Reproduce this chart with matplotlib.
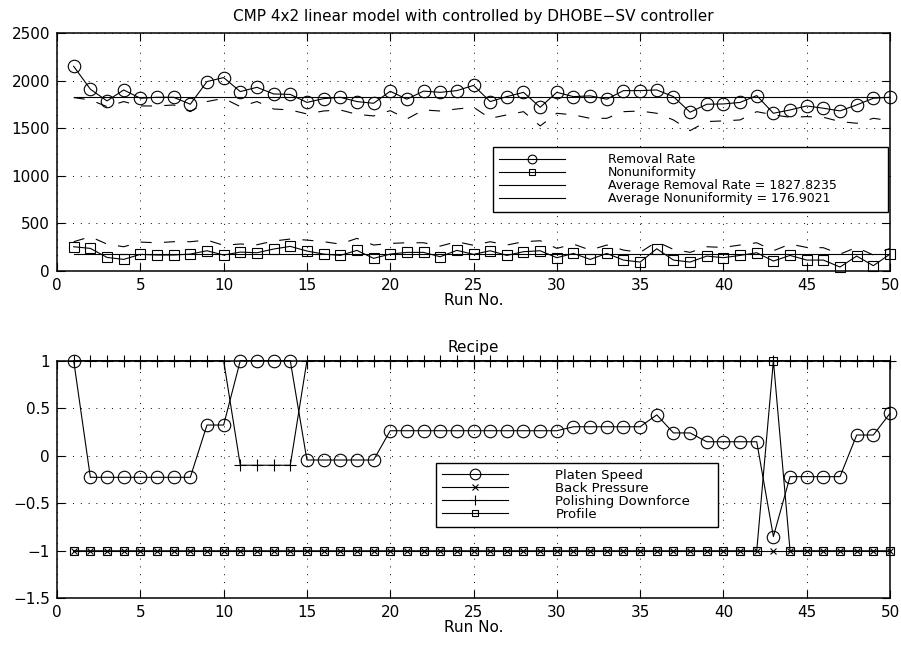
import numpy as np
import matplotlib
matplotlib.use("Agg")
import matplotlib.pyplot as plt

plt.rcParams["font.family"] = ["DejaVu Sans"]
plt.rcParams["font.size"] = 11
plt.rcParams["axes.linewidth"] = 1.1

# ---- data ----
runs = list(range(1, 51))

removal_rate = [2150, 1910, 1787, 1902, 1815, 1825, 1825, 1752, 1990, 2032,
                1885, 1930, 1860, 1855, 1771, 1811, 1825, 1780, 1762, 1888,
                1805, 1890, 1877, 1895, 1950, 1780, 1832, 1877, 1720, 1877,
                1832, 1840, 1805, 1895, 1895, 1902, 1832, 1668, 1752, 1755,
                1771, 1843, 1657, 1692, 1734, 1710, 1682, 1745, 1815, 1825]

removal_pred = [1822, 1797, 1727, 1780, 1734, 1734, 1744, 1674, 1780, 1814,
                1727, 1780, 1702, 1692, 1650, 1681, 1692, 1646, 1629, 1685,
                1597, 1692, 1681, 1702, 1720, 1604, 1640, 1674, 1524, 1657,
                1640, 1604, 1604, 1674, 1681, 1657, 1587, 1475, 1570, 1577,
                1587, 1674, 1640, 1615, 1622, 1615, 1570, 1552, 1604, 1580]

nonuniformity = [255, 238, 143, 122, 175, 168, 168, 178, 213, 168,
                 199, 192, 231, 259, 210, 178, 164, 217, 133, 178,
                 196, 196, 150, 217, 175, 213, 164, 203, 213, 140,
                 185, 122, 185, 115, 94, 234, 115, 94, 157, 140,
                 164, 192, 105, 164, 115, 115, 42, 157, 56, 178]

nonuni_pred = [308, 360, 283, 255, 304, 297, 308, 308, 325, 270,
               284, 276, 315, 336, 325, 308, 283, 343, 273, 290,
               297, 297, 262, 308, 270, 308, 273, 308, 318, 238,
               283, 220, 273, 220, 196, 308, 227, 196, 255, 248,
               273, 297, 213, 283, 248, 245, 178, 248, 168, 238]

avg_removal = 1827.8235
avg_nonuni = 176.9021

platen_speed = [1, -0.227, -0.227, -0.227, -0.227, -0.227, -0.227, -0.227, 0.323, 0.323,
                1, 1, 1, 1, -0.045, -0.045, -0.045, -0.045, -0.045, 0.263,
                0.263, 0.263, 0.263, 0.263, 0.263, 0.263, 0.263, 0.263, 0.263, 0.263,
                0.305, 0.305, 0.305, 0.305, 0.305, 0.43, 0.24, 0.24, 0.147, 0.147,
                0.147, 0.147, -0.85, -0.22, -0.22, -0.22, -0.22, 0.218, 0.218, 0.446]

back_pressure = [-1, -1, -1, -1, -1, -1, -1, -1, -1, -1,
                 -1, -1, -1, -1, -1, -1, -1, -1, -1, -1,
                 -1, -1, -1, -1, -1, -1, -1, -1, -1, -1,
                 -1, -1, -1, -1, -1, -1, -1, -1, -1, -1,
                 -1, -1, -1, -1, -1, -1, -1, -1, -1, -1]

downforce = [1, 1, 1, 1, 1, 1, 1, 1, 1, 1,
             -0.1, -0.1, -0.1, -0.1, 1, 1, 1, 1, 1, 1,
             1, 1, 1, 1, 1, 1, 1, 1, 1, 1,
             1, 1, 1, 1, 1, 1, 1, 1, 1, 1,
             1, 1, 1, 1, 1, 1, 1, 1, 1, 1]

profile = [-1, -1, -1, -1, -1, -1, -1, -1, -1, -1,
           -1, -1, -1, -1, -1, -1, -1, -1, -1, -1,
           -1, -1, -1, -1, -1, -1, -1, -1, -1, -1,
           -1, -1, -1, -1, -1, -1, -1, -1, -1, -1,
           -1, -1, 1, -1, -1, -1, -1, -1, -1, -1]

TITLE_TOP = "CMP 4x2 linear model with controlled by DHOBE\u2212SV controller"

LW = 0.8
DASH = (0, (10, 11))


def style_axes(ax, yticks, ylim):
    ax.set_xlim(0, 50)
    ax.set_xticks(range(0, 51, 5))
    ax.set_ylim(*ylim)
    ax.set_yticks(yticks)
    ax.tick_params(direction="in", top=True, right=True, length=6, width=0.8,
                   labelsize=11, pad=5)
    ax.grid(True, color="black", linestyle=(0, (1, 7)), linewidth=0.7)
    ax.set_xlabel("Run No.", fontsize=11, labelpad=0)


def boxed_legend(ax, bbox, size, **kw):
    leg = ax.legend(loc="upper left", bbox_to_anchor=bbox, mode="expand",
                    fontsize=size, numpoints=1, borderaxespad=0,
                    fancybox=False, framealpha=1, edgecolor="black", **kw)
    leg.get_frame().set_linewidth(1.0)
    return leg


fig = plt.figure(figsize=(9.01, 6.45), dpi=100)
ax1 = fig.add_axes([0.0633, 0.5798, 0.9245, 0.369])
ax2 = fig.add_axes([0.0633, 0.0724, 0.9245, 0.3684])

# ---- top panel ----
mk = dict(color="black", linewidth=LW, markerfacecolor="none",
          markeredgecolor="black", markeredgewidth=0.8, clip_on=False)
ax1.plot(runs, removal_rate, marker="o", markersize=9, label="Removal Rate", **mk)
ax1.plot(runs, nonuniformity, marker="s", markersize=6.5, label="Nonuniformity", **mk)
ax1.plot([runs[0], runs[-1]], [avg_removal, avg_removal], color="black", linewidth=LW,
         label=f"Average Removal Rate = {avg_removal:.4f}")
ax1.plot([runs[0], runs[-1]], [avg_nonuni, avg_nonuni], color="black", linewidth=LW,
         label=f"Average Nonuniformity = {avg_nonuni:.4f}")
ax1.plot(runs, removal_pred, color="black", linewidth=LW, linestyle=DASH)
ax1.plot(runs, nonuni_pred, color="black", linewidth=LW, linestyle=DASH)
style_axes(ax1, range(0, 2501, 500), (0, 2500))
ax1.set_title(TITLE_TOP, fontsize=11, pad=9)
boxed_legend(ax1, (0.523, 0.265, 0.475, 0.256), 9, markerscale=0.7,
             handlelength=5.3, handletextpad=3.4, labelspacing=0.0, borderpad=0.5)

# ---- bottom panel ----
ax2.plot(runs, platen_speed, marker="o", markersize=9, label="Platen Speed", **mk)
ax2.plot(runs, back_pressure, marker="x", markersize=5, label="Back Pressure", **mk)
ax2.plot(runs, downforce, marker="+", markersize=8, label="Polishing Downforce", **mk)
ax2.plot(runs, profile, marker="s", markersize=5.5, label="Profile", **mk)
style_axes(ax2, np.arange(-1.5, 1.01, 0.5), (-1.5, 1))
ax2.set_yticklabels(["\u22121.5", "\u22121", "\u22120.5", "0", "0.5", "1"])
ax2.set_title("Recipe", fontsize=11, pad=6)
boxed_legend(ax2, (0.455, 0.292, 0.339, 0.277), 9.5, markerscale=0.85,
             handlelength=5.0, handletextpad=3.6, labelspacing=0.0, borderpad=0.45)

fig.savefig("out.png", dpi=100)
